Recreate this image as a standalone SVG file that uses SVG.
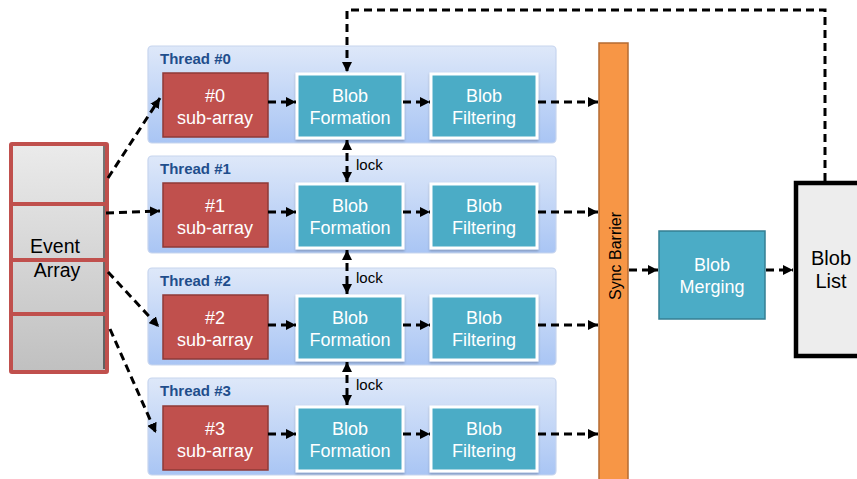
<svg xmlns="http://www.w3.org/2000/svg" width="857" height="479" viewBox="0 0 857 479">
  <defs>
    <linearGradient id="panelFill" x1="0" y1="0" x2="0" y2="1">
      <stop offset="0" stop-color="#DEE8F9"/>
      <stop offset="1" stop-color="#A9C5F4"/>
    </linearGradient>
    <linearGradient id="arrayFill" x1="0" y1="0" x2="0" y2="1">
      <stop offset="0" stop-color="#EBEBEB"/>
      <stop offset="1" stop-color="#C0C0C0"/>
    </linearGradient>
    <marker id="head" viewBox="0 0 10 10" refX="10" refY="5" markerWidth="10" markerHeight="10" markerUnits="userSpaceOnUse" orient="auto-start-reverse">
      <path d="M0,0 L10,5 L0,10 z" fill="#000"/>
    </marker>
    <filter id="shadow" x="-10%" y="-10%" width="120%" height="130%">
      <feDropShadow dx="0" dy="1.5" stdDeviation="1" flood-color="#000" flood-opacity="0.25"/>
    </filter>
  </defs>
  <style>
    .panel { fill: url(#panelFill); stroke: #C7D5EE; stroke-width: 1.2; }
    .sub { fill: #C0504D; stroke: #8E3A37; stroke-width: 1.5; }
    .proc { fill: #4BACC6; stroke: #FFFFFF; stroke-width: 3; filter: url(#shadow); }
    .merge { fill: #4BACC6; stroke: #357F93; stroke-width: 1.5; }
    .cell { fill: none; stroke: #C0504D; stroke-width: 4; }
    .lbl { font-family: "Liberation Sans", Arial, sans-serif; font-size: 18px; fill: #FFFFFF; text-anchor: middle; }
    .title { font-family: "Liberation Sans", Arial, sans-serif; font-size: 15px; font-weight: bold; fill: #1F4E8C; }
    .dark { font-family: "Liberation Sans", Arial, sans-serif; fill: #000000; }
    .dash { fill: none; stroke: #000; stroke-width: 3; stroke-dasharray: 8 5; }
  </style>

  <!-- event array -->
  <g id="event-array">
    <rect x="10" y="143" width="98" height="229" fill="url(#arrayFill)"/>
    <line x1="104" y1="146" x2="104" y2="369" stroke="#000" stroke-width="1"/>
    <rect class="cell" x="11" y="144" width="96" height="228" rx="1"/>
    <line class="cell" x1="11" y1="204" x2="107" y2="204"/>
    <line class="cell" x1="11" y1="260" x2="107" y2="260"/>
    <line class="cell" x1="11" y1="314" x2="107" y2="314"/>
    <text class="dark" x="55" y="253" font-size="19.5" text-anchor="middle">Event</text>
    <text class="dark" x="57" y="277" font-size="19.5" text-anchor="middle">Array</text>
  </g>

  <!-- thread 0 -->
  <g id="thread0">
    <rect class="panel" x="148" y="46" width="408" height="97" rx="4"/>
    <text class="title" x="160" y="64">Thread #0</text>
    <rect class="sub" x="163" y="73" width="105" height="64"/>
    <text class="lbl" x="215" y="102">#0</text>
    <text class="lbl" x="215" y="124">sub-array</text>
    <rect class="proc" x="297" y="74" width="106" height="64"/>
    <text class="lbl" x="350" y="102">Blob</text>
    <text class="lbl" x="350" y="124">Formation</text>
    <rect class="proc" x="431" y="74" width="106" height="64"/>
    <text class="lbl" x="484" y="102">Blob</text>
    <text class="lbl" x="484" y="124">Filtering</text>
  </g>

  <!-- thread 1 -->
  <g id="thread1">
    <rect class="panel" x="148" y="156" width="408" height="97" rx="4"/>
    <text class="title" x="160" y="174">Thread #1</text>
    <rect class="sub" x="163" y="183" width="105" height="64"/>
    <text class="lbl" x="215" y="212">#1</text>
    <text class="lbl" x="215" y="234">sub-array</text>
    <rect class="proc" x="297" y="184" width="106" height="64"/>
    <text class="lbl" x="350" y="212">Blob</text>
    <text class="lbl" x="350" y="234">Formation</text>
    <rect class="proc" x="431" y="184" width="106" height="64"/>
    <text class="lbl" x="484" y="212">Blob</text>
    <text class="lbl" x="484" y="234">Filtering</text>
  </g>

  <!-- thread 2 -->
  <g id="thread2">
    <rect class="panel" x="148" y="268" width="408" height="97" rx="4"/>
    <text class="title" x="160" y="286">Thread #2</text>
    <rect class="sub" x="163" y="295" width="105" height="64"/>
    <text class="lbl" x="215" y="324">#2</text>
    <text class="lbl" x="215" y="346">sub-array</text>
    <rect class="proc" x="297" y="296" width="106" height="64"/>
    <text class="lbl" x="350" y="324">Blob</text>
    <text class="lbl" x="350" y="346">Formation</text>
    <rect class="proc" x="431" y="296" width="106" height="64"/>
    <text class="lbl" x="484" y="324">Blob</text>
    <text class="lbl" x="484" y="346">Filtering</text>
  </g>

  <!-- thread 3 -->
  <g id="thread3">
    <rect class="panel" x="148" y="378" width="408" height="97" rx="4"/>
    <text class="title" x="160" y="396">Thread #3</text>
    <rect class="sub" x="163" y="406" width="105" height="64"/>
    <text class="lbl" x="215" y="435">#3</text>
    <text class="lbl" x="215" y="457">sub-array</text>
    <rect class="proc" x="297" y="407" width="106" height="64"/>
    <text class="lbl" x="350" y="435">Blob</text>
    <text class="lbl" x="350" y="457">Formation</text>
    <rect class="proc" x="431" y="407" width="106" height="64"/>
    <text class="lbl" x="484" y="435">Blob</text>
    <text class="lbl" x="484" y="457">Filtering</text>
  </g>

  <!-- barrier -->
  <g id="sync-barrier">
    <rect x="599" y="43" width="29" height="442" fill="#F79646" stroke="#B56B32" stroke-width="1.5"/>
    <text class="dark" font-size="16" text-anchor="middle" transform="translate(621,256) rotate(-90)">Sync Barrier</text>
  </g>

  <!-- merging -->
  <g id="blob-merging">
    <rect class="merge" x="659" y="231" width="106" height="88"/>
    <text class="lbl" x="712" y="271">Blob</text>
    <text class="lbl" x="712" y="293">Merging</text>
  </g>

  <!-- result list -->
  <g id="blob-list">
    <rect x="796" y="183" width="70" height="173" fill="#EDEDED" stroke="#000" stroke-width="4.5"/>
    <text class="dark" x="831" y="265" font-size="20" text-anchor="middle">Blob</text>
    <text class="dark" x="831" y="288" font-size="20" text-anchor="middle">List</text>
  </g>

  <!-- connectors -->
  <g id="connectors">
    <!-- distribution of sub-arrays -->
    <path class="dash" d="M108,178 L160,98" marker-end="url(#head)"/>
    <path class="dash" d="M106,213 L160,211" marker-end="url(#head)"/>
    <path class="dash" d="M108,272 L159,327" marker-end="url(#head)"/>
    <path class="dash" d="M110,329 L156,433" marker-end="url(#head)"/>

    <!-- per-thread pipeline -->
    <path class="dash" d="M268,102 H296" marker-end="url(#head)"/>
    <path class="dash" d="M403,102 H430" marker-end="url(#head)"/>
    <path class="dash" d="M538,102 H598" marker-end="url(#head)"/>

    <path class="dash" d="M268,212 H296" marker-end="url(#head)"/>
    <path class="dash" d="M403,212 H430" marker-end="url(#head)"/>
    <path class="dash" d="M538,212 H598" marker-end="url(#head)"/>

    <path class="dash" d="M268,325 H296" marker-end="url(#head)"/>
    <path class="dash" d="M403,325 H430" marker-end="url(#head)"/>
    <path class="dash" d="M538,325 H598" marker-end="url(#head)"/>

    <path class="dash" d="M268,434 H296" marker-end="url(#head)"/>
    <path class="dash" d="M403,434 H430" marker-end="url(#head)"/>
    <path class="dash" d="M538,434 H598" marker-end="url(#head)"/>

    <!-- locks between formation stages -->
    <path class="dash" d="M347,140 V182" marker-start="url(#head)" marker-end="url(#head)"/>
    <path class="dash" d="M347,250 V294" marker-start="url(#head)" marker-end="url(#head)"/>
    <path class="dash" d="M347,362 V405" marker-start="url(#head)" marker-end="url(#head)"/>
    <text class="dark" x="356" y="170" font-size="15">lock</text>
    <text class="dark" x="356" y="283" font-size="15">lock</text>
    <text class="dark" x="356" y="390" font-size="15">lock</text>

    <!-- merge stage -->
    <path class="dash" d="M629,270 H658" marker-end="url(#head)"/>
    <path class="dash" d="M766,270 H793" marker-end="url(#head)"/>

    <!-- feedback of the list into formation -->
    <path class="dash" d="M825,181 V10 H347 V72" marker-end="url(#head)"/>
  </g>
</svg>
